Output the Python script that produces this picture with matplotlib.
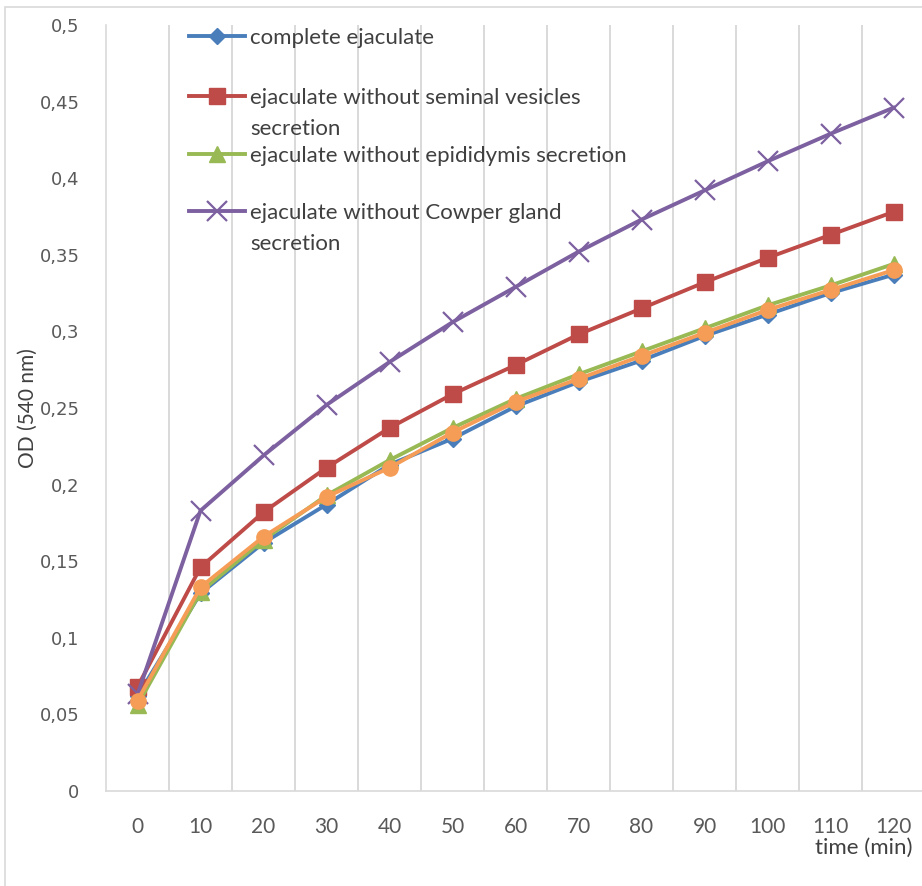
import numpy as np
import matplotlib.pyplot as plt
from matplotlib.lines import Line2D
from matplotlib.patches import Rectangle

# OD at 540 nm over time for the ejaculate fractions
times = [0, 10, 20, 30, 40, 50, 60, 70, 80, 90, 100, 110, 120]
complete = [0.062, 0.129, 0.162, 0.187, 0.213, 0.230, 0.251, 0.267, 0.281, 0.297, 0.311, 0.325, 0.337]
no_vesicles = [0.068, 0.146, 0.182, 0.211, 0.237, 0.259, 0.278, 0.298, 0.315, 0.332, 0.348, 0.363, 0.378]
no_epididymis = [0.056, 0.130, 0.164, 0.193, 0.216, 0.237, 0.256, 0.272, 0.287, 0.302, 0.317, 0.330, 0.344]
no_cowper = [0.063, 0.183, 0.219, 0.252, 0.280, 0.306, 0.329, 0.352, 0.373, 0.392, 0.411, 0.429, 0.446]
extra = [0.059, 0.133, 0.166, 0.192, 0.211, 0.234, 0.254, 0.269, 0.284, 0.299, 0.314, 0.327, 0.340]

labels = ['complete ejaculate',
          'ejaculate without seminal vesicles\nsecretion',
          'ejaculate without epididymis secretion',
          'ejaculate without Cowper gland\nsecretion']

series = [
    (complete, '#4a7ebb', 'D', 8, 1),
    (no_vesicles, '#be4b48', 's', 11, 1),
    (no_epididymis, '#98b954', '^', 11, 1),
    (no_cowper, '#7d60a0', 'x', 14, 1.6),
    (extra, '#f59d56', 'o', 11, 1),
]

W, H = 922, 886
fig = plt.figure(figsize=(W / 100, H / 100), dpi=100)
ax = fig.add_axes([106 / W, 1 - 791 / H, 819 / W, 766 / H])

pos = np.arange(len(times))
for vals, col, mk, ms, mew in series:
    ax.plot(pos, vals, color=col, lw=2.8, marker=mk, markersize=ms,
            markeredgewidth=mew, markeredgecolor=col, markerfacecolor=col)

ax.set_xlim(-0.5, len(times) - 0.5)
ax.set_ylim(0, 0.5)

grey = '#d9d9d9'
txt = '#595959'
for s in ['top', 'right']:
    ax.spines[s].set_visible(False)
for s in ['left', 'bottom']:
    ax.spines[s].set_color(grey)
    ax.spines[s].set_linewidth(1.2)

ax.set_xticks(pos)
ax.set_xticklabels([str(t) for t in times], family='Lato', fontsize=15, color=txt)
ax.set_xticks(pos[:-1] + 0.5, minor=True)
ax.grid(True, which='minor', axis='x', color=grey, lw=1.4)
ax.tick_params(axis='x', which='both', length=0, pad=19)

yt = np.round(np.arange(0, 0.501, 0.05), 2)
ax.set_yticks(yt)
ax.set_yticklabels([f'{v:g}'.replace('.', ',') for v in yt], family='DejaVu Sans',
                   fontsize=13, color=txt)
ax.tick_params(axis='y', length=0, pad=19)

fig.text(28 / W, 1 - 408 / H, 'OD (540 nm)', rotation=90, family='Lato',
         fontsize=15, color='#404040', ha='center', va='center')
fig.text(912 / W, 1 - 848 / H, 'time (min)', family='Lato', fontsize=16,
         color='#404040', ha='right', va='center')

# legend entries: handle on the first text line, wrapped lines below it
rows = [36, 96, 154, 211]
for (vals, col, mk, ms, mew), lab, y in zip(series, labels, rows):
    yf = 1 - y / H
    fig.add_artist(Line2D([189 / W, 217 / W, 245 / W], [yf, yf, yf], color=col, lw=2.8,
                          marker=mk, markersize=ms, markeredgewidth=mew, markevery=[1],
                          markeredgecolor=col, markerfacecolor=col))
    for k, line in enumerate(lab.split('\n')):
        fig.text(250 / W, 1 - (y + 31 * k) / H, line, family='Lato', fontsize=16,
                 color='#404040', ha='left', va='center_baseline')

# chart border
fig.add_artist(Rectangle((5 / W, -0.1), 1.2, 1.1 - 7 / H, transform=fig.transFigure,
                         fill=False, edgecolor=grey, lw=1.2))

fig.savefig('out.png', dpi=100)
